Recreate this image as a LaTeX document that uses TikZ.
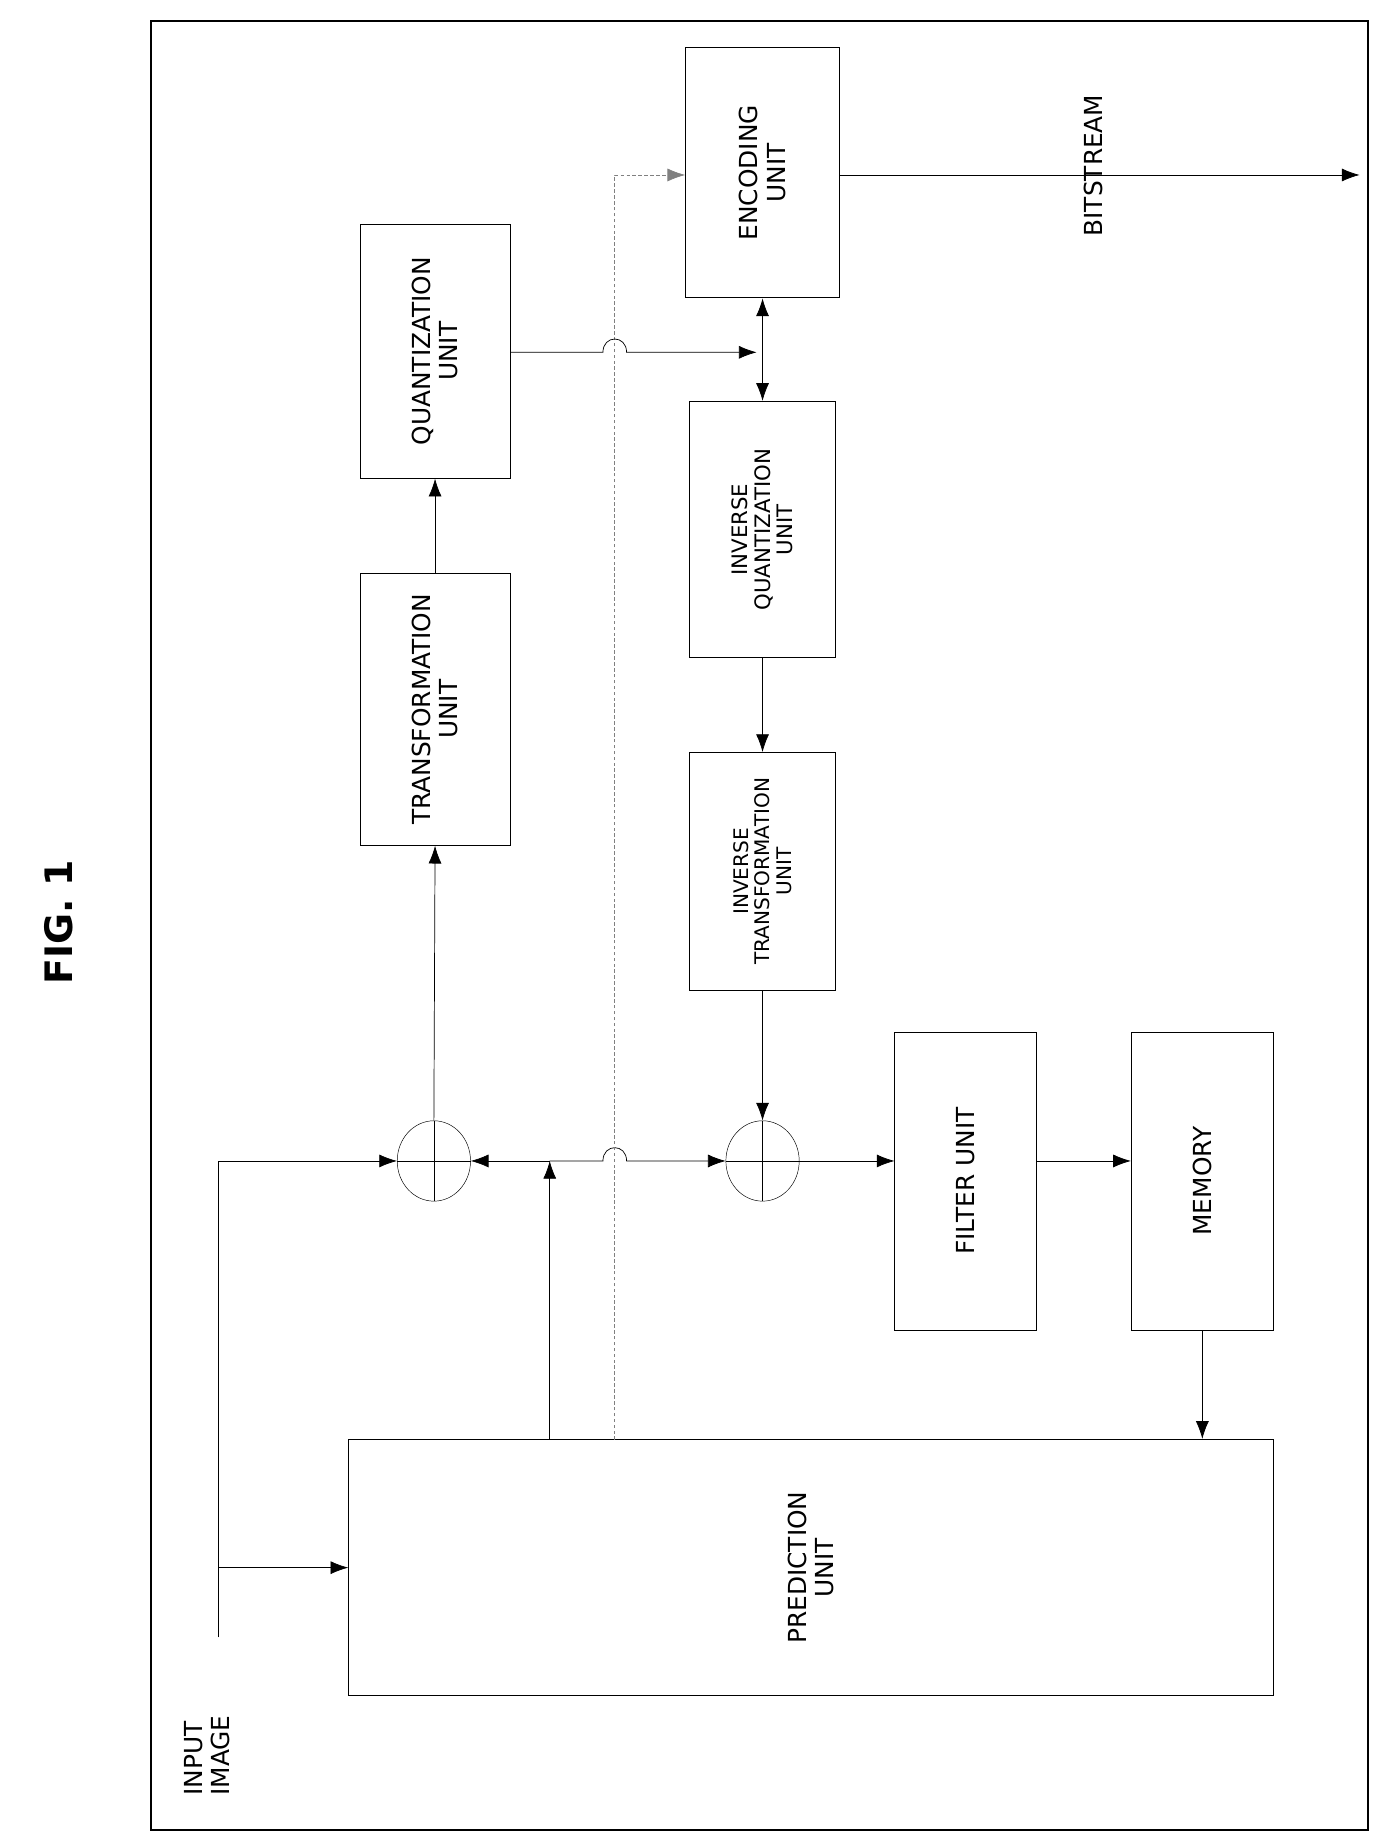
\documentclass[tikz,border=0pt]{standalone}
\usepackage{fontspec}
\setmainfont{DejaVu Sans}
\usetikzlibrary{positioning,arrows.meta,shapes.geometric}
\begin{document}
\begin{tikzpicture}[x=1pt,y=-1pt,
	blk/.style={rectangle, draw, thick, inner sep=0pt},
	txt/.style={rotate=90, align=center, font=\fontsize{21}{23}\selectfont},
	adder/.style={ellipse, draw, minimum width=62, minimum height=68, inner sep=0pt},
	arr/.style={-{Latex[length=15pt,width=11pt]}, semithick},
	dasharr/.style={-{Latex[length=15pt,width=11pt]}, semithick, densely dashed, gray}]
	\useasboundingbox (0,0) rectangle (1165,1553);
	\draw [line width=1.6pt] (128,18) rectangle (1157,1548);
	\node [rotate=90, font=\fontsize{32}{34}\bfseries\selectfont] (fig) at (50,780) {FIG. 1};
	
	\node [blk, minimum width=130, minimum height=212] (enc) at (645,146) {};
	\node [txt] at (enc) {ENCODING\\UNIT};
	\node [blk, minimum width=127, minimum height=215] (quant) at (368,297) {};
	\node [txt] at (quant) {QUANTIZATION\\UNIT};
	\node [blk, minimum width=127, minimum height=230] (trans) at (368,600) {};
	\node [txt] at (trans) {TRANSFORMATION\\UNIT};
	\node [blk, minimum width=124, minimum height=217] (iquant) at (645,448) {};
	\node [txt, font=\fontsize{18}{19}\selectfont] at (iquant) {INVERSE\\QUANTIZATION\\UNIT};
	\node [blk, minimum width=124, minimum height=201] (itrans) at (645,737) {};
	\node [txt, font=\fontsize{17}{18}\selectfont] at (itrans) {INVERSE\\TRANSFORMATION\\UNIT};
	\node [blk, minimum width=120, minimum height=252] (filter) at (817,999) {};
	\node [txt] at (filter) {FILTER UNIT};
	\node [blk, minimum width=120, minimum height=252] (mem) at (1017,999) {};
	\node [txt] at (mem) {MEMORY};
	\node [blk, minimum width=782, minimum height=217] (pred) at (686,1326) {};
	\node [txt] at (pred) {PREDICTION\\UNIT};
	\node [adder] (add1) at (367,982) {};
	\node [adder] (add2) at (645,982) {};
	\draw (add1.north) -- (add1.south) (add1.west) -- (add1.east);
	\draw (add2.north) -- (add2.south) (add2.west) -- (add2.east);
	\node [txt, align=left] (input) at (175,1485) {INPUT\\IMAGE};
	\node [txt] (bits) at (925,140) {BITSTREAM};
	
	\coordinate (in0) at (185,1385);
	\coordinate (in1) at (185,1326);
	\coordinate (in2) at (185,982);
	\coordinate (pj) at (465,982);
	\coordinate (dj) at (520,1218);
	\coordinate (dt) at (520,148);
	\coordinate (qj) at (640,298);
	\coordinate (out) at (1150,148);
	
	\draw [arr] (in0) -- (in2) -- (add1.west);
	\draw [arr] (in1) -- (in1 -| pred.west);
	\draw [arr] (pred.north -| pj) -- (pj);
	\draw [arr] (pj) -- (add1.east);
	\draw [arr] (pj) -- (510,982) .. controls (510,967) and (530,967) .. (530,982) -- (add2.west);
	\draw [dasharr] (dj) -- (dt) -- (enc.west |- dt);
	\draw [arr] (add1.north) -- (trans.south);
	\draw [arr] (trans.north) -- (quant.south);
	\draw [arr] (quant.east |- qj) -- (510,298) .. controls (510,283) and (530,283) .. (530,298) -- (qj);
	\draw [{Latex[length=15pt,width=11pt]}-{Latex[length=15pt,width=11pt]}, semithick] (enc.south) -- (iquant.north);
	\draw [arr] (enc.east |- out) -- (out);
	\draw [arr] (iquant.south) -- (itrans.north);
	\draw [arr] (itrans.south) -- (add2.north);
	\draw [arr] (add2.east) -- (filter.west |- add2.east);
	\draw [arr] (filter.east |- add2.east) -- (mem.west |- add2.east);
	\draw [arr] (mem.south) -- (pred.north -| mem.south);
\end{tikzpicture}
\end{document}
